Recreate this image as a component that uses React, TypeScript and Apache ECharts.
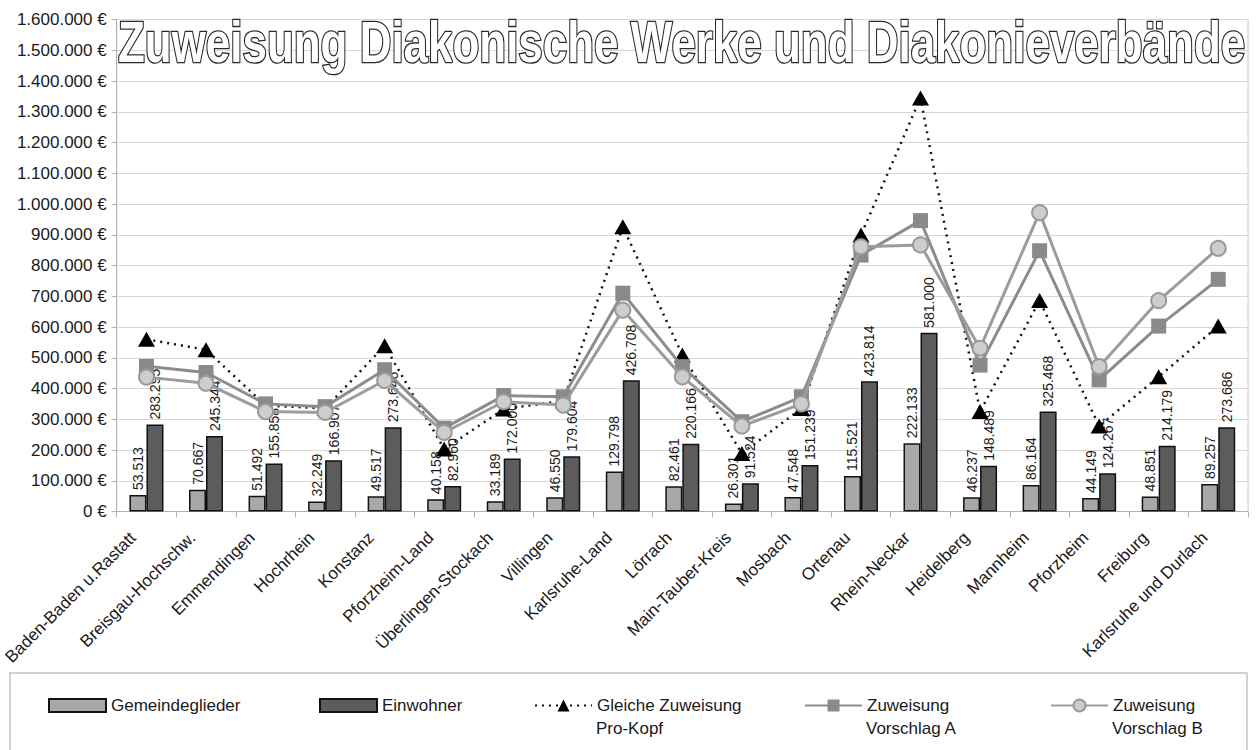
import React, { useEffect, useRef } from 'react';
import * as echarts from 'echarts';

const categories = [
  'Baden-Baden u.Rastatt', 'Breisgau-Hochschw.', 'Emmendingen', 'Hochrhein', 'Konstanz',
  'Pforzheim-Land', 'Überlingen-Stockach', 'Villingen', 'Karlsruhe-Land', 'Lörrach',
  'Main-Tauber-Kreis', 'Mosbach', 'Ortenau', 'Rhein-Neckar', 'Heidelberg', 'Mannheim',
  'Pforzheim', 'Freiburg', 'Karlsruhe und Durlach',
];
const gemeindeglieder = [
  53513, 70667, 51492, 32249, 49517, 40158, 33189, 46550, 129798, 82461,
  26301, 47548, 115521, 222133, 46237, 86164, 44149, 48851, 89257,
];
const einwohner = [
  283295, 245344, 155858, 166907, 273646, 82960, 172000, 179604, 426708, 220166,
  91524, 151239, 423814, 581000, 148489, 325468, 124267, 214179, 273686,
];
const gleicheZuweisung = [
  560000, 526000, 345000, 335000, 539000, 203000, 333000, 360000, 926000, 509000,
  189000, 335000, 899000, 1345000, 325000, 686000, 278000, 438000, 603000,
];
const vorschlagA = [
  472000, 452000, 350000, 341000, 461000, 271000, 377000, 373000, 710000, 471000,
  292000, 373000, 834000, 946000, 476000, 848000, 428000, 603000, 755000,
];
const vorschlagB = [
  437000, 417000, 325000, 322000, 426000, 257000, 357000, 346000, 655000, 438000,
  278000, 350000, 861000, 867000, 531000, 972000, 471000, 686000, 856000,
];
const yMin = 0;
const yMax = 1600000;
const yStep = 100000;

const title = 'Zuweisung Diakonische Werke und Diakonieverbände';
const seriesNames = [
  'Gemeindeglieder', 'Einwohner', 'Gleiche Zuweisung Pro-Kopf',
  'Zuweisung Vorschlag A', 'Zuweisung Vorschlag B',
];

const dots = (v: number) => String(Math.round(v)).replace(/\B(?=(\d{3})+(?!\d))/g, '.');

const FONT = '"Liberation Sans", Arial, sans-serif';
const TITLE_FONT = '"Liberation Sans", Arial, sans-serif';
const TITLE_SIZE = 52;
const TITLE_WIDTH = 1127;

function titleScaleX() {
  try {
    const ctx = document.createElement('canvas').getContext('2d');
    if (!ctx) return 0.75;
    ctx.font = `bold ${TITLE_SIZE}px ${TITLE_FONT}`;
    const w = ctx.measureText(title).width;
    return w > 0 ? TITLE_WIDTH / w : 0.75;
  } catch (e) {
    return 0.75;
  }
}

export default function App() {
  const ref = useRef<HTMLDivElement>(null);
  useEffect(() => {
    if (!ref.current) return;
    const chart = echarts.init(ref.current, undefined, { renderer: 'svg' });
    const barLabel = {
      show: true,
      position: 'top',
      rotate: 90,
      align: 'left',
      verticalAlign: 'middle',
      distance: 5,
      fontSize: 14,
      fontFamily: FONT,
      color: '#1a1a1a',
      formatter: (p: any) => dots(p.value),
    };
    const legendText = { fontSize: 17, fontFamily: FONT, color: '#1a1a1a' };
    const legendBase = { padding: 0, top: 697, itemWidth: 57, itemHeight: 13, textStyle: legendText };
    chart.setOption({
      animation: false,
      backgroundColor: '#ffffff',
      textStyle: { fontFamily: FONT },
      grid: { left: 114, right: 10, top: 19.5, bottom: 238.5, show: true, borderColor: '#c8c8c8', borderWidth: 1 },
      xAxis: {
        type: 'category',
        data: categories,
        axisLine: { lineStyle: { color: '#b0b0b0', width: 1 } },
        axisTick: { show: true, length: 6, lineStyle: { color: '#b0b0b0' } },
        axisLabel: {
          rotate: 45, fontSize: 17, fontFamily: FONT, color: '#1a1a1a', margin: 10, interval: 0,
          formatter: (v: string) => `{c|${v}}`,
          rich: { c: { fontSize: 17, fontFamily: FONT, color: '#1a1a1a', padding: [0, 19, 0, 0] } },
        },
      },
      yAxis: {
        type: 'value',
        min: yMin,
        max: yMax,
        interval: yStep,
        axisLine: { show: true, lineStyle: { color: '#b0b0b0' } },
        axisTick: { show: true, length: 5, lineStyle: { color: '#b0b0b0' } },
        splitLine: { lineStyle: { color: '#d8d8d8', width: 1 } },
        axisLabel: { fontSize: 17, fontFamily: FONT, color: '#1a1a1a', margin: 10, formatter: (v: number) => dots(v) + ' €' },
      },
      legend: [
        { ...legendBase, data: [{ name: seriesNames[0], icon: 'rect' }], left: 48 },
        { ...legendBase, data: [{ name: seriesNames[1], icon: 'rect' }], left: 319 },
        { ...legendBase, data: [seriesNames[2]], left: 534, itemHeight: 15, formatter: () => 'Gleiche Zuweisung' },
        { ...legendBase, data: [seriesNames[3]], left: 804, itemHeight: 15, formatter: () => 'Zuweisung' },
        { ...legendBase, data: [seriesNames[4]], left: 1050, itemHeight: 15, formatter: () => 'Zuweisung' },
      ],
      graphic: [
        { type: 'rect', shape: { x: 10, y: 673, width: 1237, height: 90 }, style: { fill: 'none', stroke: '#c4c4c4', lineWidth: 1.5 }, silent: true },
        { type: 'text', x: 596, y: 720, style: { text: 'Pro-Kopf', fontSize: 17, fontFamily: FONT, fill: '#1a1a1a' } },
        { type: 'text', x: 866, y: 720, style: { text: 'Vorschlag A', fontSize: 17, fontFamily: FONT, fill: '#1a1a1a' } },
        { type: 'text', x: 1112, y: 720, style: { text: 'Vorschlag B', fontSize: 17, fontFamily: FONT, fill: '#1a1a1a' } },
        {
          type: 'text', x: 118, y: 14, z: 100, scaleX: titleScaleX(), scaleY: 1.1,
          style: {
            text: title,
            fontSize: TITLE_SIZE,
            fontWeight: 'bold',
            fontFamily: TITLE_FONT,
            fill: '#ffffff',
            stroke: '#2a2a2a',
            lineWidth: 2.5,
          },
        },
      ],
      series: [
        {
          name: seriesNames[0], type: 'bar', data: gemeindeglieder, barWidth: 17, barGap: '0%',
          itemStyle: { color: '#a8a8a8', borderColor: '#111111', borderWidth: 1.5 }, label: barLabel,
        },
        {
          name: seriesNames[1], type: 'bar', data: einwohner, barWidth: 17,
          itemStyle: { color: '#5c5c5c', borderColor: '#111111', borderWidth: 1.5 }, label: barLabel,
        },
        {
          name: seriesNames[2], type: 'line', data: gleicheZuweisung, symbol: 'triangle', symbolSize: [17, 15],
          lineStyle: { color: '#111111', width: 2.5, type: [2, 5] }, itemStyle: { color: '#000000' }, z: 3,
        },
        {
          name: seriesNames[3], type: 'line', data: vorschlagA, symbol: 'rect', symbolSize: 15,
          lineStyle: { color: '#8c8c8c', width: 3 }, itemStyle: { color: '#8a8a8a' }, z: 4,
        },
        {
          name: seriesNames[4], type: 'line', data: vorschlagB, symbol: 'circle', symbolSize: 15,
          lineStyle: { color: '#9c9c9c', width: 3 }, itemStyle: { color: '#cdcdcd', borderColor: '#9a9a9a', borderWidth: 2 }, z: 5,
        },
      ],
    });
    return () => chart.dispose();
  }, []);
  return <div ref={ref} style={{ position: 'absolute', left: 0, top: 0, width: 1258, height: 750, background: '#fff' }} />;
}
